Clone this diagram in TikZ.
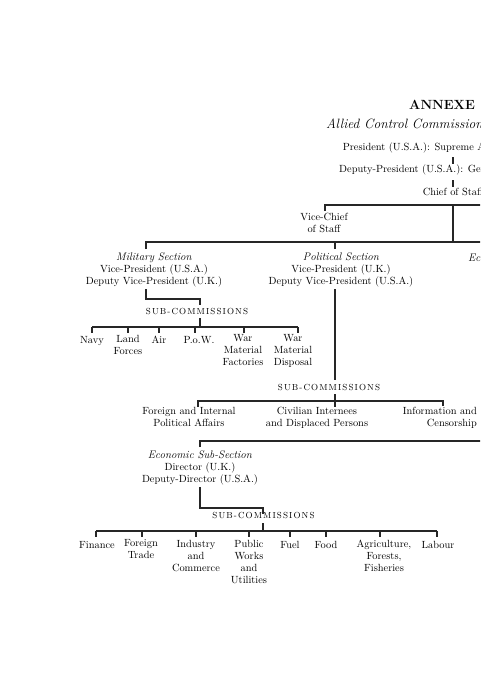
\documentclass[tikz,border=0pt]{standalone}
\usepackage{fontspec}
\newfontfamily\spacedfont[LetterSpace=12.5]{Latin Modern Roman}
\newcommand\fsz{\fontsize{10.4}{12}\selectfont}
\newcommand\secfont{\fontsize{11}{12}\selectfont\itshape}
\newcommand\subc{{\spacedfont\fontsize{8.8}{12}\selectfont SUB-COMMISSIONS}}
\tikzset{
  lbl/.style={inner sep=0pt, align=center, anchor=north, font=\fsz, execute at begin node=\strut},
  lbr/.style={lbl, align=right, anchor=north east},
  one/.style={inner sep=0pt, anchor=base, font=\fsz},
  ln/.style={line width=1.1pt, black!85}
}
\begin{document}
\begin{tikzpicture}[x=1pt,y=-1pt]
\useasboundingbox (0,0) rectangle (480,677);
\clip (0,0) rectangle (480,677);

% headings
\node[one, anchor=base west, font=\fontsize{13.3}{15}\selectfont\bfseries] (annexe) at (409,109) {ANNEXE};
\node[one, anchor=base west, font=\fontsize{13.5}{15}\selectfont\itshape] (acc) at (326,128) {Allied Control Commission for Italy};
\node[one] (pres) at (453,150) {President (U.S.A.): Supreme Allied Commander};
\node[one, anchor=base west] (dpres) at (339,172) {Deputy-President (U.S.A.): General Officer};
\node[one] (cos) at (453,195) {Chief of Staff};
\node[lbl] (vcos) at (324,212.6) {Vice-Chief\\of Staff};

% sections
\node[lbl] (mil) at (154,252.6) {{\secfont Military Section}\\Vice-President (U.S.A.)\\Deputy Vice-President (U.K.)};
\node[lbl] (pol) at (341,252.6) {{\secfont Political Section}\\Vice-President (U.K.)\\Deputy Vice-President (U.S.A.)};
\node[one, anchor=base west, font=\secfont] (ecs) at (468,261) {Economic Section};

% military sub-commissions
\node[one] (msub) at (197,314) {\subc};
\node[lbl] (navy) at (92,334.6) {Navy};
\node[lbl] (land) at (128,334.6) {Land\\Forces};
\node[lbl] (air) at (159,334.6) {Air};
\node[lbl] (pow) at (199,334.6) {P.o.W.};
\node[lbl] (wmf) at (243,334.6) {War\\Material\\Factories};
\node[lbl] (wmd) at (293,334.6) {War\\Material\\Disposal};

% political sub-commissions
\node[one] (psub) at (329,390) {\subc};
\node[lbl] (fip) at (189,406.6) {Foreign and Internal\\Political Affairs};
\node[lbl] (cid) at (317,406.6) {Civilian Internees\\and Displaced Persons};
\node[lbr] (inf) at (477,406.6) {Information and\\Censorship};

% economic sub-section
\node[lbl] (ess) at (200,450.6) {{\secfont Economic Sub-Section}\\Director (U.K.)\\Deputy-Director (U.S.A.)};
\node[one] (esub) at (263.5,518) {\subc};
\node[lbl] (fin) at (97,539.6) {Finance};
\node[lbl] (ftr) at (141,539.6) {Foreign\\Trade};
\node[lbl] (ind) at (196,539.6) {Industry\\and\\Commerce};
\node[lbl] (pub) at (249,539.6) {Public\\Works\\and\\Utilities};
\node[lbl] (fuel) at (290,539.6) {Fuel};
\node[lbl] (food) at (326,539.6) {Food};
\node[lbl] (agr) at (384,539.6) {Agriculture,\\Forests,\\Fisheries};
\node[lbl] (lab) at (438,539.6) {Labour};

% junction coordinates
\coordinate (p1) at (453,157); \coordinate (p2) at (453,164);
\coordinate (d1) at (453,180); \coordinate (d2) at (453,187);
\coordinate (c1) at (453,205); \coordinate (c2) at (453,242);
\coordinate (vc) at (325,211);
\coordinate (r1) at (490,205); \coordinate (r2) at (490,242);
\coordinate (mt) at (146,249); \coordinate (pt) at (335,249);
\coordinate (mb) at (146,289); \coordinate (mj) at (200,305);
\coordinate (ms) at (200,318);
\coordinate (pb) at (335,289); \coordinate (pe) at (335,380);
\coordinate (ps) at (335,394); \coordinate (pd) at (335,407);
\coordinate (et) at (200,447); \coordinate (r3) at (490,441);
\coordinate (eb) at (200,487); \coordinate (ej) at (263,514);
\coordinate (es) at (263,523);

\begin{scope}[ln]
\draw (p1) -- (p2);
\draw (d1) -- (d2);
\draw (vc) |- (r1);
\draw (c1) -- (c2);
\draw (mt) |- (r2);
\draw (pt) -- (335,242);
% military
\draw (mb) -- (146,299) -| (mj);
\draw (ms) -- (200,327);
\draw (92,327) -- (298,327);
\foreach \x in {92,128,159,195,244,298} \draw (\x,327) -- (\x,333);
% political
\draw (pb) -- (pe);
\draw (ps) -- (pd);
\draw (198,407) |- (443,401) -- (443,406);
% economic
\draw (et) |- (r3);
\draw (eb) -- (200,508) -| (ej);
\draw (es) -- (263,531);
\draw (96,531) -- (437,531);
\foreach \x in {96,142,196,249,290,326,380,437} \draw (\x,531) -- (\x,537);
\end{scope}
\end{tikzpicture}
\end{document}
